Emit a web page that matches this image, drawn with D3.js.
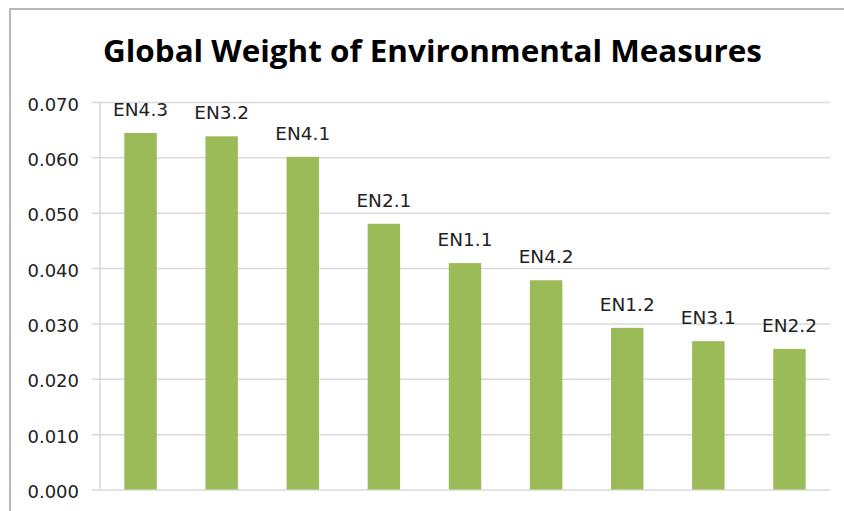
<!DOCTYPE html>
<html>
<head>
<meta charset="utf-8">
<script src="https://cdn.jsdelivr.net/npm/d3@7"></script>
<style>
    body { margin: 0; background: #fff; }
    svg { display: block; }
</style>
</head>
<body>
<div id="chart"></div>
<script>
let measures = ['EN4.3', 'EN3.2', 'EN4.1', 'EN2.1', 'EN1.1', 'EN4.2', 'EN1.2', 'EN3.1', 'EN2.2'];
let weights = [0.0644, 0.0638, 0.0601, 0.0480, 0.0409, 0.0378, 0.0292, 0.0268, 0.0254];
let yTicks = [0, 0.01, 0.02, 0.03, 0.04, 0.05, 0.06, 0.07];

let width = 844, height = 511;
let margin = {top: 102, right: 14, bottom: 21.5, left: 100};

let svg = d3.select('#chart').append('svg')
    .attr('width', width)
    .attr('height', height);

// outer chart frame (runs off the right and bottom edges)
svg.append('rect')
    .attr('x', 10).attr('y', 9)
    .attr('width', 900).attr('height', 600)
    .attr('fill', 'none')
    .attr('stroke', '#b8b8b8')
    .attr('stroke-width', 2);

svg.append('text')
    .attr('x', 432.5)
    .attr('y', 62)
    .attr('text-anchor', 'middle')
    .attr('textLength', 659)
    .attr('lengthAdjust', 'spacingAndGlyphs')
    .style('font-family', '"Open Sans", sans-serif')
    .style('font-weight', 'bold')
    .style('font-size', '31px')
    .style('fill', '#000')
    .text('Global Weight of Environmental Measures');

let x = d3.scaleBand()
    .domain(measures)
    .range([margin.left, width - margin.right])
    .paddingInner(0.6)
    .paddingOuter(0.3);

let y = d3.scaleLinear()
    .domain([0, 0.07])
    .range([height - margin.bottom, margin.top]);

// gridlines + y axis
let yAxis = svg.append('g')
    .attr('transform', `translate(${margin.left},0)`)
    .call(d3.axisLeft(y)
        .tickValues(yTicks)
        .tickFormat(d3.format('.3f'))
        .tickSize(-(width - margin.right - margin.left))
        .tickPadding(21));

yAxis.select('.domain').remove();
yAxis.selectAll('.tick line')
    .attr('x1', -8)
    .attr('stroke', '#d9d9d9')
    .attr('stroke-width', 1.5);
yAxis.selectAll('.tick text')
    .attr('dy', '0.45em')
    .style('font-family', '"DejaVu Sans", sans-serif')
    .style('font-size', '18px')
    .style('fill', '#222');

// vertical axis line
svg.append('line')
    .attr('x1', margin.left).attr('x2', margin.left)
    .attr('y1', y(0.07)).attr('y2', y(0))
    .attr('stroke', '#d9d9d9')
    .attr('stroke-width', 1.5);

svg.selectAll('.bar')
    .data(measures)
    .enter().append('rect')
    .attr('class', 'bar')
    .attr('x', d => x(d))
    .attr('width', x.bandwidth())
    .attr('y', (d, i) => y(weights[i]))
    .attr('height', (d, i) => y(0) - y(weights[i]))
    .attr('fill', '#9bbb59');

svg.selectAll('.label')
    .data(measures)
    .enter().append('text')
    .attr('class', 'label')
    .attr('x', d => x(d) + x.bandwidth() / 2)
    .attr('y', (d, i) => y(weights[i]) - 17)
    .attr('text-anchor', 'middle')
    .style('font-family', '"DejaVu Sans", sans-serif')
    .style('font-size', '18.5px')
    .style('fill', '#222')
    .text(d => d);
</script>
</body>
</html>
